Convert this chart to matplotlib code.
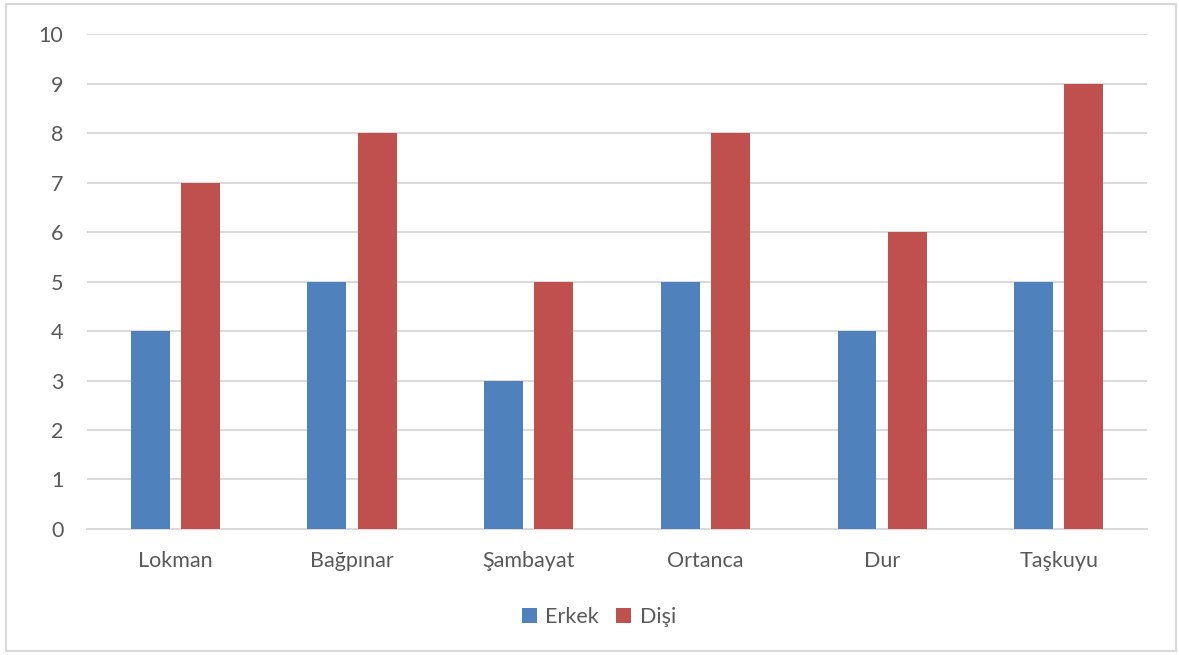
import numpy as np
import matplotlib.pyplot as plt
from matplotlib.patches import Rectangle

# Köylere göre erkek / dişi sayıları
koyler = ['Lokman', 'Bağpınar', 'Şambayat', 'Ortanca', 'Dur', 'Taşkuyu']
erkek = [4, 5, 3, 5, 4, 5]
disi = [7, 8, 5, 8, 6, 9]

mavi = '#4F81BD'
kirmizi = '#C0504D'
gri_yazi = '#595959'
izgara = '#D9D9D9'

plt.rcParams['font.family'] = ['Lato', 'DejaVu Sans']

fig = plt.figure(figsize=(11.79, 6.55), dpi=100)
ax = fig.add_axes([0.0738, 0.1924, 0.8991, 0.7556])

x = np.arange(len(koyler))
w = 0.22
ax.bar(x - 0.142, erkek, w, color=mavi, label='Erkek', zorder=3)
ax.bar(x + 0.142, disi, w, color=kirmizi, label='Dişi', zorder=3)

ax.set_xlim(-0.5, len(koyler) - 0.5)
ax.set_ylim(0, 10)
ax.set_yticks(range(0, 11))
ax.set_xticks(x)
ax.set_xticklabels(koyler)
ax.grid(axis='y', color=izgara, linewidth=1.4, zorder=0)
for s in ['top', 'right', 'left']:
    ax.spines[s].set_visible(False)
ax.spines['bottom'].set_color(izgara)
ax.spines['bottom'].set_linewidth(1.4)
ax.tick_params(axis='both', length=0, labelsize=15.5, labelcolor=gri_yazi)
ax.tick_params(axis='y', pad=17)
ax.tick_params(axis='x', pad=16)

leg = fig.legend(loc='center', bbox_to_anchor=(0.508, 0.058), ncol=2, frameon=False,
                 fontsize=15.5, handlelength=0.7, handleheight=0.7,
                 handletextpad=0.4, columnspacing=0.8)
for t in leg.get_texts():
    t.set_color(gri_yazi)

# çerçeve
fig.patches.append(Rectangle((6 / 1179, 4 / 655), 1170 / 1179, 647 / 655,
                             transform=fig.transFigure, fill=False,
                             edgecolor=izgara, linewidth=1.5))

fig.savefig('out.png', dpi=100)
